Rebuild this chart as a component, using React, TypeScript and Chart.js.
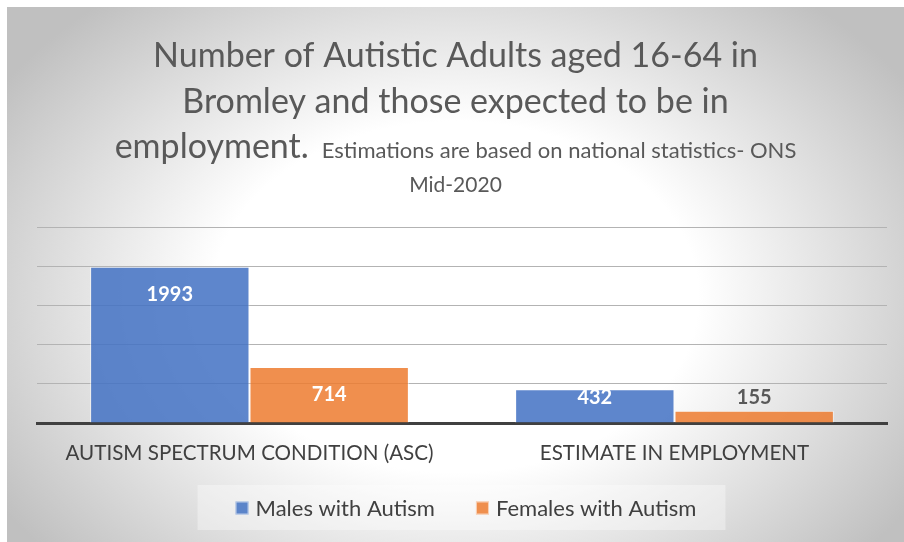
import React, { useEffect, useRef } from "react";
import { Chart, registerables } from "chart.js";

Chart.register(...registerables);

const categories = ["AUTISM SPECTRUM CONDITION (ASC)", "ESTIMATE IN EMPLOYMENT"];
const seriesNames = ["Males with Autism", "Females with Autism"];
const malesValues = [1993, 432];
const femalesValues = [714, 155];
const seriesColors = ["rgba(68,114,196,0.86)", "rgba(237,125,49,0.86)"];
const legendColors = ["#5b84c9", "#ef8f4e"];
const titleLines = ["Number of Autistic Adults aged 16-64 in", "Bromley and those expected to be in"];
const titleLead = "employment.";
const titleNote = "Estimations are based on national statistics- ONS";
const titleNoteEnd = "Mid-2020";
const yMin = 0;
const yMax = 2500;
const yStep = 500;

const FONT = "Lato, 'Open Sans', sans-serif";
const TITLE_COLOR = "#595959";
const TEXT_COLOR = "#404040";

const backgroundPlugin = {
  id: "bgGradient",
  beforeDraw(chart: any) {
    const { ctx, width, height } = chart;
    const cx = width / 2;
    const cy = 290;
    const rx = 540;
    const s = 390 / 540;
    ctx.save();
    ctx.translate(cx, cy);
    ctx.scale(1, s);
    const g = ctx.createRadialGradient(0, 0, 0, 0, 0, rx);
    g.addColorStop(0, "#ffffff");
    g.addColorStop(0.45, "#ffffff");
    g.addColorStop(1, "#c0c0c0");
    ctx.fillStyle = g;
    ctx.fillRect(-cx, -cy / s, width, height / s);
    ctx.restore();
  },
};

const titlePlugin = {
  id: "mixedTitle",
  afterDraw(chart: any) {
    const { ctx, width } = chart;
    const cx = width / 2;
    const big = `34px ${FONT}`;
    const small = `22px ${FONT}`;
    ctx.save();
    ctx.fillStyle = TITLE_COLOR;
    ctx.textBaseline = "alphabetic";
    ctx.textAlign = "center";
    ctx.font = big;
    ctx.fillText(titleLines[0], cx, 60);
    ctx.fillText(titleLines[1], cx, 106);
    // mixed line: large lead word followed by smaller note
    ctx.font = big;
    const w1 = ctx.measureText(titleLead).width;
    const ws = 13;
    ctx.font = small;
    const w2 = ctx.measureText(titleNote).width;
    const total = w1 + ws + w2;
    let x = cx - total / 2;
    ctx.textAlign = "left";
    ctx.font = big;
    ctx.fillText(titleLead, x, 151);
    x += w1 + ws;
    ctx.font = small;
    ctx.fillText(titleNote, x, 151);
    ctx.textAlign = "center";
    ctx.font = `21px ${FONT}`;
    ctx.fillText(titleNoteEnd, cx, 185);
    ctx.restore();
  },
};

const valueLabelPlugin = {
  id: "valueLabels",
  afterDatasetsDraw(chart: any) {
    const { ctx } = chart;
    ctx.save();
    ctx.font = `bold 20px ${FONT}`;
    ctx.textAlign = "center";
    ctx.textBaseline = "middle";
    chart.data.datasets.forEach((ds: any, di: number) => {
      const meta = chart.getDatasetMeta(di);
      meta.data.forEach((el: any, i: number) => {
        const v = ds.data[i];
        const cy = Math.min(el.y + 28, el.base - 25);
        ctx.fillStyle = cy > el.y ? "#ffffff" : TITLE_COLOR;
        ctx.fillText(String(v), el.x, cy);
      });
    });
    ctx.restore();
  },
};

const legendPlugin = {
  id: "boxedLegend",
  afterDraw(chart: any) {
    const { ctx, chartArea } = chart;
    const font = `22px ${FONT}`;
    const box = 13;
    const gapText = 7;
    const gapItem = 41;
    const cy = 501;
    ctx.save();
    ctx.font = font;
    const items = chart.data.datasets.map((ds: any, i: number) => ({
      text: ds.label,
      color: legendColors[i],
      w: box + gapText + ctx.measureText(ds.label).width,
    }));
    const total = items.reduce((a: number, it: any) => a + it.w, 0) + gapItem * (items.length - 1);
    const center = (chartArea.left + chartArea.right) / 2 + 4;
    let x = center - total / 2;
    // legend background box
    ctx.fillStyle = "rgba(255,255,255,0.35)";
    ctx.fillRect(x - 38, cy - 23, total + 38 + 29, 45);
    ctx.textBaseline = "middle";
    ctx.textAlign = "left";
    items.forEach((it: any) => {
      ctx.fillStyle = it.color;
      ctx.fillRect(x, cy - box / 2, box, box);
      ctx.strokeStyle = "rgba(255,255,255,0.6)";
      ctx.lineWidth = 1;
      ctx.strokeRect(x + 0.5, cy - box / 2 + 0.5, box - 1, box - 1);
      ctx.fillStyle = TEXT_COLOR;
      ctx.fillText(it.text, x + box + gapText, cy + 1);
      x += it.w + gapItem;
    });
    ctx.restore();
  },
};

export default function App() {
  const ref = useRef<HTMLCanvasElement | null>(null);

  useEffect(() => {
    if (!ref.current) return;
    const chart = new Chart(ref.current, {
      type: "bar",
      data: {
        labels: categories,
        datasets: [
          {
            label: seriesNames[0],
            data: malesValues,
            backgroundColor: seriesColors[0],
            borderColor: "rgba(255,255,255,0.55)",
            borderWidth: 1,
          },
          {
            label: seriesNames[1],
            data: femalesValues,
            backgroundColor: seriesColors[1],
            borderColor: "rgba(255,255,255,0.55)",
            borderWidth: 1,
          },
        ],
      },
      options: {
        responsive: false,
        animation: false,
        devicePixelRatio: 1,
        layout: { padding: { top: 220, left: 30, right: 17, bottom: 77 } },
        plugins: {
          legend: { display: false },
          title: { display: false },
          tooltip: { enabled: false },
        },
        datasets: {
          bar: { categoryPercentage: 0.75, barPercentage: 1.0 },
        },
        scales: {
          x: {
            grid: { display: false, drawTicks: false },
            border: { display: true, color: "#404040", width: 3 },
            ticks: {
              padding: 18,
              color: TEXT_COLOR,
              font: { family: FONT, size: 20.6 },
              maxRotation: 0,
              autoSkip: false,
            },
            afterFit: (s: any) => {
              s.height = 42;
            },
          },
          y: {
            min: yMin,
            max: yMax,
            ticks: { display: false, stepSize: yStep },
            grid: { color: "#b3b3b3", lineWidth: 1, drawTicks: false },
            border: { display: false },
            afterFit: (s: any) => {
              s.width = 0;
            },
          },
        },
      },
      plugins: [backgroundPlugin, titlePlugin, valueLabelPlugin, legendPlugin],
    });
    return () => chart.destroy();
  }, []);

  return (
    <div style={{ position: "fixed", left: 7, top: 7, width: 897, height: 535 }}>
      <canvas ref={ref} width={897} height={535} style={{ display: "block", width: 897, height: 535 }} />
    </div>
  );
}
